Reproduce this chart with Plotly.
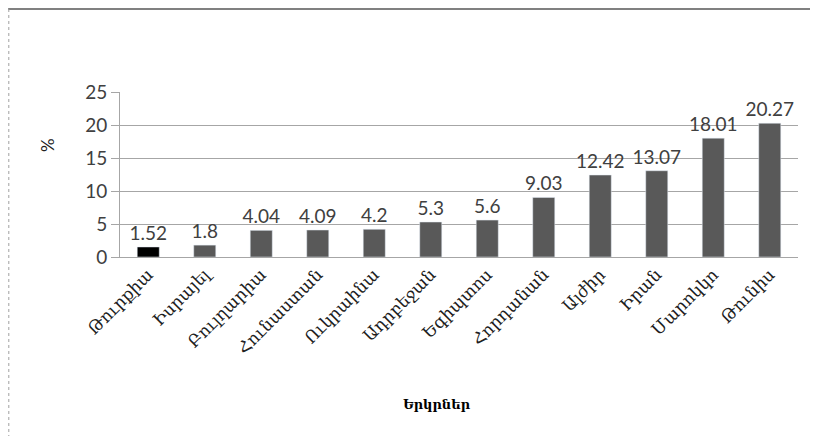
"""Bar chart: share (%) by country, Armenian labels."""

import plotly.graph_objects as go

# Data
countries = ["Թուրքիա", "Իսրայել", "Բուլղարիա", "Հունաստան", "Ուկրաինա",
             "Ադրբեջան", "Եգիպտոս", "Հորդանան", "Ալժիր", "Իրան",
             "Մարոկկո", "Թունիս"]
values = [1.52, 1.8, 4.04, 4.09, 4.2, 5.3, 5.6, 9.03, 12.42, 13.07, 18.01, 20.27]
y_ticks = [0, 5, 10, 15, 20, 25]

# First bar highlighted in black, the rest dark gray
colors = ["#000000"] + ["#595959"] * (len(values) - 1)

fig = go.Figure(go.Bar(
    x=countries, y=values,
    marker_color=colors,
    width=0.39,
    text=[str(v) for v in values],
    textposition="outside",
    constraintext="none",
    textangle=0,
    textfont=dict(family="Lato, Open Sans, sans-serif", size=19, color="#404040"),
    cliponaxis=False,
))

# The page adds an 8px body margin, so margins are shifted by 8px
fig.update_layout(
    width=818, height=436,
    margin=dict(l=112, r=28, t=84, b=187),
    paper_bgcolor="white", plot_bgcolor="white",
    showlegend=False,
    font=dict(family="Lato, Open Sans, sans-serif", color="#404040"),
)

fig.update_yaxes(
    range=[0, 25], tickvals=y_ticks,
    showgrid=True, gridcolor="#a6a6a6", gridwidth=1,
    showline=True, linecolor="#a6a6a6", linewidth=1,
    ticks="outside", ticklen=8, tickcolor="#a6a6a6",
    tickfont=dict(size=19, color="#404040"),
    zeroline=False,
)

fig.update_xaxes(
    tickangle=-45,
    tickfont=dict(family="DejaVu Serif, serif", size=17, color="#202020"),
    showline=True, linecolor="#a6a6a6", linewidth=1,
    ticks="",
)

# Axis titles
fig.add_annotation(text="%", xref="paper", yref="paper", x=-0.106, y=0.679,
                   xanchor="center", yanchor="middle",
                   showarrow=False, textangle=-90,
                   font=dict(size=17, color="#202020"))
fig.add_annotation(text="<b>Երկրներ</b>", xref="paper", yref="paper",
                   x=0.468, y=-0.891, xanchor="center", yanchor="middle",
                   showarrow=False,
                   font=dict(family="DejaVu Serif, serif", size=13, color="#000000"))

# Frame around the picture (top and left edges as in the original)
fig.add_shape(type="line", xref="paper", yref="paper",
              x0=-0.165, x1=1.05, y0=1.503, y1=1.503,
              line=dict(color="#808080", width=2))
fig.add_shape(type="line", xref="paper", yref="paper",
              x0=-0.164, x1=-0.164, y0=1.503, y1=-1.1,
              line=dict(color="#a0a0a0", width=1, dash="dot"))

fig.write_html("out.html")
